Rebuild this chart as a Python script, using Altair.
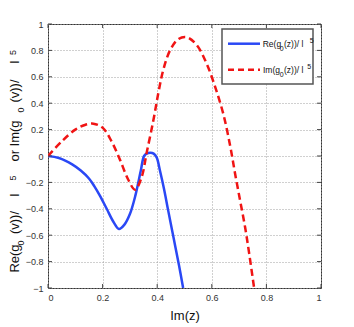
import altair as alt
import pandas as pd

# ---- data ----
re_x = [0, 0.04, 0.09, 0.12, 0.15, 0.17, 0.19, 0.215, 0.24, 0.26, 0.28, 0.30, 0.32, 0.34,
        0.352, 0.363, 0.375, 0.387, 0.398, 0.41, 0.425, 0.44, 0.46, 0.48, 0.495]
re_y = [0, -0.015, -0.065, -0.11, -0.17, -0.23, -0.30, -0.40, -0.50, -0.553, -0.52, -0.44,
        -0.30, -0.11, 0.0, 0.02, 0.025, 0.018, -0.01, -0.11, -0.25, -0.41, -0.62, -0.83, -1.0]

im_x = [0, 0.05, 0.10, 0.135, 0.166, 0.20, 0.233, 0.264, 0.294, 0.319, 0.343, 0.361,
        0.386, 0.404, 0.422, 0.447, 0.477, 0.508, 0.545, 0.581, 0.612, 0.642, 0.667,
        0.685, 0.703, 0.722, 0.737, 0.755]
im_y = [0, 0.11, 0.20, 0.235, 0.245, 0.215, 0.11, -0.03, -0.18, -0.255, -0.16, 0.02,
        0.27, 0.475, 0.65, 0.80, 0.885, 0.90, 0.84, 0.70, 0.525, 0.32, 0.08,
        -0.13, -0.33, -0.54, -0.74, -1.0]

x_ticks = [0, 0.2, 0.4, 0.6, 0.8, 1]
y_ticks = [-1, -0.8, -0.6, -0.4, -0.2, 0, 0.2, 0.4, 0.6, 0.8, 1]

series_names = ["Re", "Im"]

W, H = 273, 264
BLUE = "#2a48f5"
RED = "#f01414"
FONT = "Liberation Sans"

df_re = pd.DataFrame({"x": re_x, "y": re_y, "s": series_names[0]})
df_im = pd.DataFrame({"x": im_x, "y": im_y, "s": series_names[1]})
df_xt = pd.DataFrame({"x": x_ticks})
df_yt = pd.DataFrame({"y": y_ticks})

xs = alt.Scale(domain=[0, 1], nice=False, zero=False)
ys = alt.Scale(domain=[-1, 1], nice=False, zero=False)

axis_common = dict(
    grid=True, gridDash=[1, 2], gridColor="#a0a0a0", gridWidth=1,
    ticks=False, domain=False, labelFont=FONT, labelFontSize=9,
    labelColor="#333333", labelPadding=5, format=".1~f",
)
xaxis = alt.Axis(values=x_ticks, title="Im(z)", titleFont=FONT, titleFontSize=13,
                 titleFontWeight="normal", titleColor="#111111", titlePadding=7,
                 **axis_common)
yaxis = alt.Axis(values=y_ticks, title="", **axis_common)

X = alt.X("x:Q", scale=xs, axis=xaxis)
Y = alt.Y("y:Q", scale=ys, axis=yaxis)

line_re = alt.Chart(df_re).mark_line(
    color=BLUE, strokeWidth=2.5, interpolate="catmull-rom", clip=True
).encode(x=X, y=Y)

line_im = alt.Chart(df_im).mark_line(
    color=RED, strokeWidth=2.5, strokeDash=[7, 4], interpolate="catmull-rom", clip=True
).encode(x=X, y=Y)

# inward ticks on all four sides
tick_color = "#444444"
tb = alt.Chart(df_xt).mark_rule(color=tick_color).encode(
    x=X, y=alt.value(H), y2=alt.value(H - 4))
tt = alt.Chart(df_xt).mark_rule(color=tick_color).encode(
    x=X, y=alt.value(0), y2=alt.value(4))
tl = alt.Chart(df_yt).mark_rule(color=tick_color).encode(
    y=Y, x=alt.value(0), x2=alt.value(4))
tr = alt.Chart(df_yt).mark_rule(color=tick_color).encode(
    y=Y, x=alt.value(W), x2=alt.value(W - 4))

one = pd.DataFrame({"k": [0]})

def txt(s, x, y, size, align="center", baseline="middle", angle=0):
    kw = dict(text=s, font=FONT, fontSize=size, align=align, baseline=baseline,
              color="#111111")
    if angle:
        kw["angle"] = angle
    return alt.Chart(one).mark_text(**kw).encode(x=alt.value(x), y=alt.value(y))

# rotated y-axis title (pieces placed like the reference)
ytitle = [
    txt("Re(g", -29.5, 234.5, 13, baseline="alphabetic", angle=270),
    txt("0", -27, 219, 9, angle=270),
    txt("(v))/", -29.5, 198.5, 13, baseline="alphabetic", angle=270),
    txt("l", -29.5, 171, 13, baseline="alphabetic", angle=270),
    txt("5", -35, 154, 9, angle=270),
    txt("or Im(g", -29.5, 117, 13, baseline="alphabetic", angle=270),
    txt("0", -27, 86, 9, angle=270),
    txt("(v))/", -29.5, 67, 13, baseline="alphabetic", angle=270),
    txt("l", -29.5, 38, 13, baseline="alphabetic", angle=270),
    txt("5", -35, 28.5, 9, angle=270),
]

# legend box
leg_box = alt.Chart(one).mark_rect(
    fill="white", stroke="#555555", strokeWidth=1.5
).encode(x=alt.value(174), x2=alt.value(265), y=alt.value(5), y2=alt.value(60))
leg_l1 = alt.Chart(one).mark_rule(color=BLUE, strokeWidth=2.5).encode(
    x=alt.value(180), x2=alt.value(212), y=alt.value(19.7))
leg_l2 = alt.Chart(one).mark_rule(color=RED, strokeWidth=2.5,
                                  strokeDash=[6, 4]).encode(
    x=alt.value(180), x2=alt.value(212), y=alt.value(45.7))
legend_txt = [
    txt("Re(g", 214.7, 19.7, 8.5, align="left"),
    txt("0", 233.7, 25, 7),
    txt("(z))/ l", 236, 19.7, 8.5, align="left"),
    txt("5", 263.7, 17.3, 7),
    txt("Im(g", 215, 45.7, 8.5, align="left"),
    txt("0", 233.7, 50.7, 7),
    txt("(z))/ l", 236, 45.7, 8.5, align="left"),
    txt("5", 261.3, 43.3, 7),
]

chart = alt.layer(
    line_re, line_im, tb, tt, tl, tr, *ytitle, leg_box, leg_l1, leg_l2, *legend_txt
).properties(
    width=W, height=H,
    autosize=alt.AutoSizeParams(type="none"),
    padding={"left": 40, "top": 16, "right": 20, "bottom": 38},
    background="white",
).configure_view(stroke="#333333", strokeWidth=1)

chart.save("out.html", embed_options={"renderer": "svg", "actions": False})
